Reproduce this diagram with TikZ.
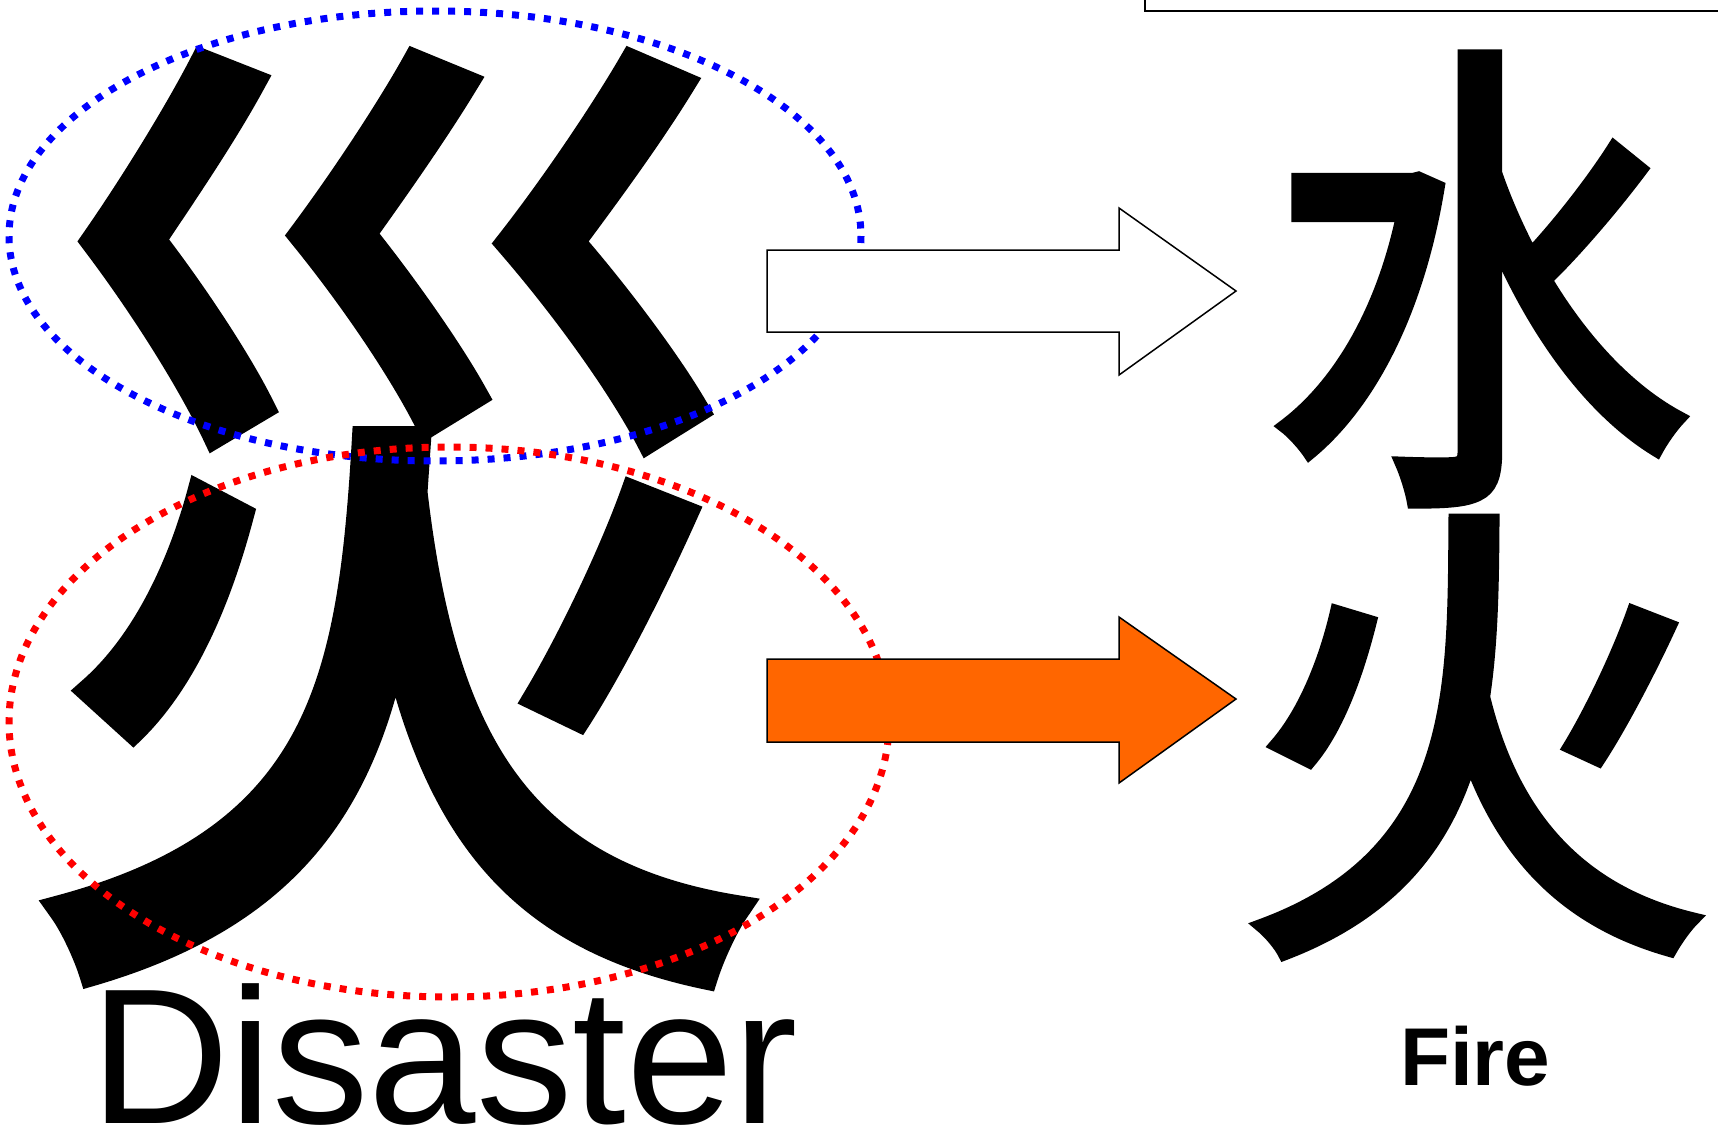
\documentclass[tikz,border=0pt]{standalone}
\usepackage{fontspec}
\setmainfont{Liberation Sans}
\newfontfamily\cjk[FakeBold=2.5]{Noto Sans CJK SC}
\usepackage{graphicx}
\definecolor{arroworange}{RGB}{255,102,0}
\definecolor{dotblue}{RGB}{0,0,255}
\definecolor{dotred}{RGB}{255,0,0}
\begin{document}
\begin{tikzpicture}[x=1pt,y=-1pt,
  glyph/.style={inner sep=0pt, outer sep=0pt},
  dotring/.style={line width=7pt, dash pattern=on 7pt off 9pt},
  blockarrow/.style={draw=black, line width=1.5pt, line join=miter}]
\useasboundingbox (0,0) rectangle (1718,1128);
\fill[white] (0,0) rectangle (1718,1128);
% partial frame at top right
\draw[line width=2pt] (1145,-20) rectangle (1740,11);
% big character
\node[glyph] (zai) at (396,519) {\resizebox*{740pt}{917pt}{\cjk\fontsize{100}{100}\selectfont 災}};
% right characters
\node[glyph] (shui) at (1479,279) {\resizebox*{425pt}{447pt}{\cjk\fontsize{100}{100}\selectfont 水}};
\node[glyph] (huo) at (1474,737) {\resizebox*{477pt}{435pt}{\cjk\fontsize{100}{100}\selectfont 火}};
% dotted ellipses
\draw[dotring, dotblue] (435,236) ellipse [x radius=426, y radius=225];
\draw[dotring, dotred] (449,722) ellipse [x radius=440, y radius=275];
% block arrows
\draw[blockarrow, fill=white] (767,250) -- (1119,250) -- (1119,208) -- (1236,291) -- (1119,375) -- (1119,332) -- (767,332) -- cycle;
\draw[blockarrow, fill=arroworange] (767,659) -- (1119,659) -- (1119,617) -- (1236,699) -- (1119,783) -- (1119,742) -- (767,742) -- cycle;
% labels
\node[glyph, anchor=base west] (disaster) at (90,1123) {\fontsize{193}{193}\selectfont Disaster};
\node[glyph, anchor=base west] (fire) at (1400,1085) {\bfseries\fontsize{82}{82}\selectfont Fire};
\end{tikzpicture}
\end{document}
